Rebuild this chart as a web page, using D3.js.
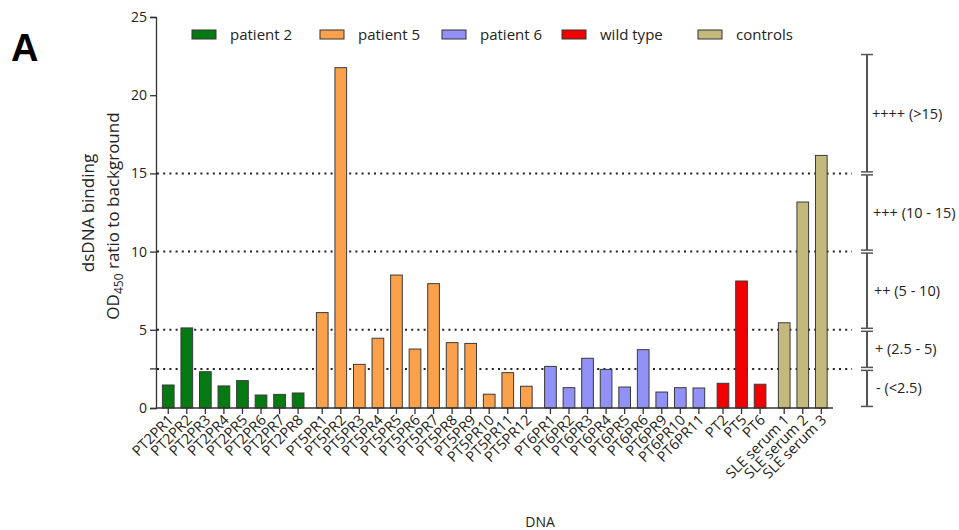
<!DOCTYPE html>
<html><head><meta charset="utf-8">
<script src="https://cdn.jsdelivr.net/npm/d3@7"></script>
<style>body{margin:0;background:#fff;}svg{display:block;font-family:"Open Sans",sans-serif;}</style>
</head><body><svg id="c" width="959" height="530"></svg>
<script>
const groupNames = ["patient 2","patient 5","patient 6","wild type","controls"];
const patient2Labels = ["PT2PR1","PT2PR2","PT2PR3","PT2PR4","PT2PR5","PT2PR6","PT2PR7","PT2PR8"];
const patient2Values = [1.47,5.12,2.32,1.41,1.75,0.83,0.87,0.96];
const patient5Labels = ["PT5PR1","PT5PR2","PT5PR3","PT5PR4","PT5PR5","PT5PR6","PT5PR7","PT5PR8","PT5PR9","PT5PR10","PT5PR11","PT5PR12"];
const patient5Values = [6.1,21.76,2.79,4.46,8.5,3.77,7.95,4.18,4.13,0.88,2.26,1.39];
const patient6Labels = ["PT6PR1","PT6PR2","PT6PR3","PT6PR4","PT6PR5","PT6PR6","PT6PR9","PT6PR10","PT6PR11"];
const patient6Values = [2.66,1.30,3.18,2.47,1.34,3.73,1.02,1.30,1.28];
const wildLabels = ["PT2","PT5","PT6"];
const wildValues = [1.58,8.12,1.52];
const controlLabels = ["SLE serum 1","SLE serum 2","SLE serum 3"];
const controlValues = [5.45,13.17,16.15];
const yTicks = [0,5,10,15,20,25];
const thresholds = [2.5,5,10,15];
const bracketLabels = ["- (<2.5)","+ (2.5 - 5)","++ (5 - 10)","+++ (10 - 15)","++++ (>15)"];
const bracketBounds = [0.1,2.5,5,10,15,22.6];

const colors = ["#067a12","#fba14c","#9191f7","#f20000","#c3b97d"];
const seriesLabels = [patient2Labels,patient5Labels,patient6Labels,wildLabels,controlLabels];
const seriesValues = [patient2Values,patient5Values,patient6Values,wildValues,controlValues];

const data = [];
let idx = 0;
seriesLabels.forEach((labs,g)=>{
  labs.forEach((l,i)=>{ data.push({label:l, value:seriesValues[g][i], group:g, slot: idx + g*0.3}); idx++; });
});

const svg = d3.select("#c");
const x = d3.scaleLinear().domain([-0.66,35.83]).range([156,833]);
const y = d3.scaleLinear().domain([0,25]).range([408,17]);
const bw = 0.63*(x(1)-x(0));

// dotted lines
svg.append("g").selectAll("line").data(thresholds).join("line")
  .attr("x1",157).attr("x2",852).attr("y1",d=>y(d)).attr("y2",d=>y(d))
  .attr("stroke","#222").attr("stroke-width",2).attr("stroke-dasharray","2,4.2");

// bars
svg.append("g").selectAll("rect").data(data).join("rect")
  .attr("x",d=>x(d.slot)-bw/2).attr("width",bw)
  .attr("y",d=>y(d.value)).attr("height",d=>y(0)-y(d.value))
  .attr("fill",d=>colors[d.group]).attr("stroke","#3a3a3a").attr("stroke-width",1);

// y axis
const yAx = svg.append("g").attr("transform","translate(156,0)")
  .call(d3.axisLeft(y).tickValues(yTicks).tickSize(6).tickPadding(3));
yAx.select(".domain").attr("stroke","#333").attr("stroke-width",1.3);
yAx.selectAll(".tick line").attr("stroke","#333").attr("stroke-width",1.3);
yAx.selectAll("text").attr("font-size",14).attr("fill","#222").attr("font-family","Open Sans");
yAx.append("line").attr("x1",0).attr("x2",-6).attr("y1",y(2.5)).attr("y2",y(2.5)).attr("stroke","#333").attr("stroke-width",1.3);

// x axis
const xAx = svg.append("g").attr("transform","translate(0,408)");
xAx.append("line").attr("x1",156).attr("x2",833).attr("stroke","#333").attr("stroke-width",1.3);
const xt = xAx.selectAll("g.t").data(data).join("g").attr("class","t").attr("transform",d=>`translate(${x(d.slot)},0)`);
xt.append("line").attr("y2",6).attr("stroke","#333").attr("stroke-width",1.3);
xt.append("text").attr("text-anchor","end").attr("font-size",14.5).attr("fill","#222")
  .attr("transform","translate(6,13) rotate(-45)").text(d=>d.label);

// axis titles
const yt = svg.append("text").attr("transform","rotate(-90)").attr("font-size",17).attr("fill","#222").attr("text-anchor","middle").attr("x",-213).attr("y",94).text("dsDNA binding");
const yt2 = svg.append("text").attr("transform","rotate(-90)").attr("font-size",17).attr("fill","#222").attr("text-anchor","middle").attr("x",-216).attr("y",119);
yt2.append("tspan").text("OD");
yt2.append("tspan").attr("font-size",12).attr("dy",4).text("450");
yt2.append("tspan").attr("dy",-4).text(" ratio to background");

svg.append("text").attr("x",540).attr("y",527).attr("text-anchor","middle").attr("font-size",14).attr("fill","#222").text("DNA");
svg.append("text").attr("x",11).attr("y",61).attr("font-size",38).attr("font-weight","bold").attr("font-family","Liberation Sans, Arial").attr("fill","#000").text("A");

// legend
const legX = [192,320,442,562,698];
const lg = svg.append("g").selectAll("g").data(groupNames).join("g").attr("transform",(d,i)=>`translate(${legX[i]},30)`);
lg.append("rect").attr("width",24).attr("height",9).attr("fill",(d,i)=>colors[i]).attr("stroke","#333").attr("stroke-width",1);
lg.append("text").attr("x",38).attr("y",10).attr("font-size",15).attr("fill","#222").text(d=>d);

// bracket
const bx = 867;
const br = svg.append("g").attr("stroke","#555").attr("stroke-width",2);
for(let i=0;i<bracketBounds.length-1;i++){
  const lo = bracketBounds[i], hi = bracketBounds[i+1];
  const y1 = y(hi) + (i===bracketBounds.length-2?0:1.5);
  const y2 = y(lo) - (i===0?0:1.5);
  br.append("line").attr("x1",bx).attr("x2",bx).attr("y1",y1).attr("y2",y2);
  br.append("line").attr("x1",bx-6).attr("x2",bx+6).attr("y1",y1).attr("y2",y1).attr("stroke-width",1.5);
  br.append("line").attr("x1",bx-6).attr("x2",bx+6).attr("y1",y2).attr("y2",y2).attr("stroke-width",1.5);
}
svg.append("g").selectAll("text").data(bracketLabels).join("text")
  .attr("x",(d,i)=>[876,875,874,873,872][i]).attr("y",(d,i)=>(y(bracketBounds[i])+y(bracketBounds[i+1]))/2+5)
  .attr("font-size",14.5).attr("fill","#222").text(d=>d);
</script></body></html>
